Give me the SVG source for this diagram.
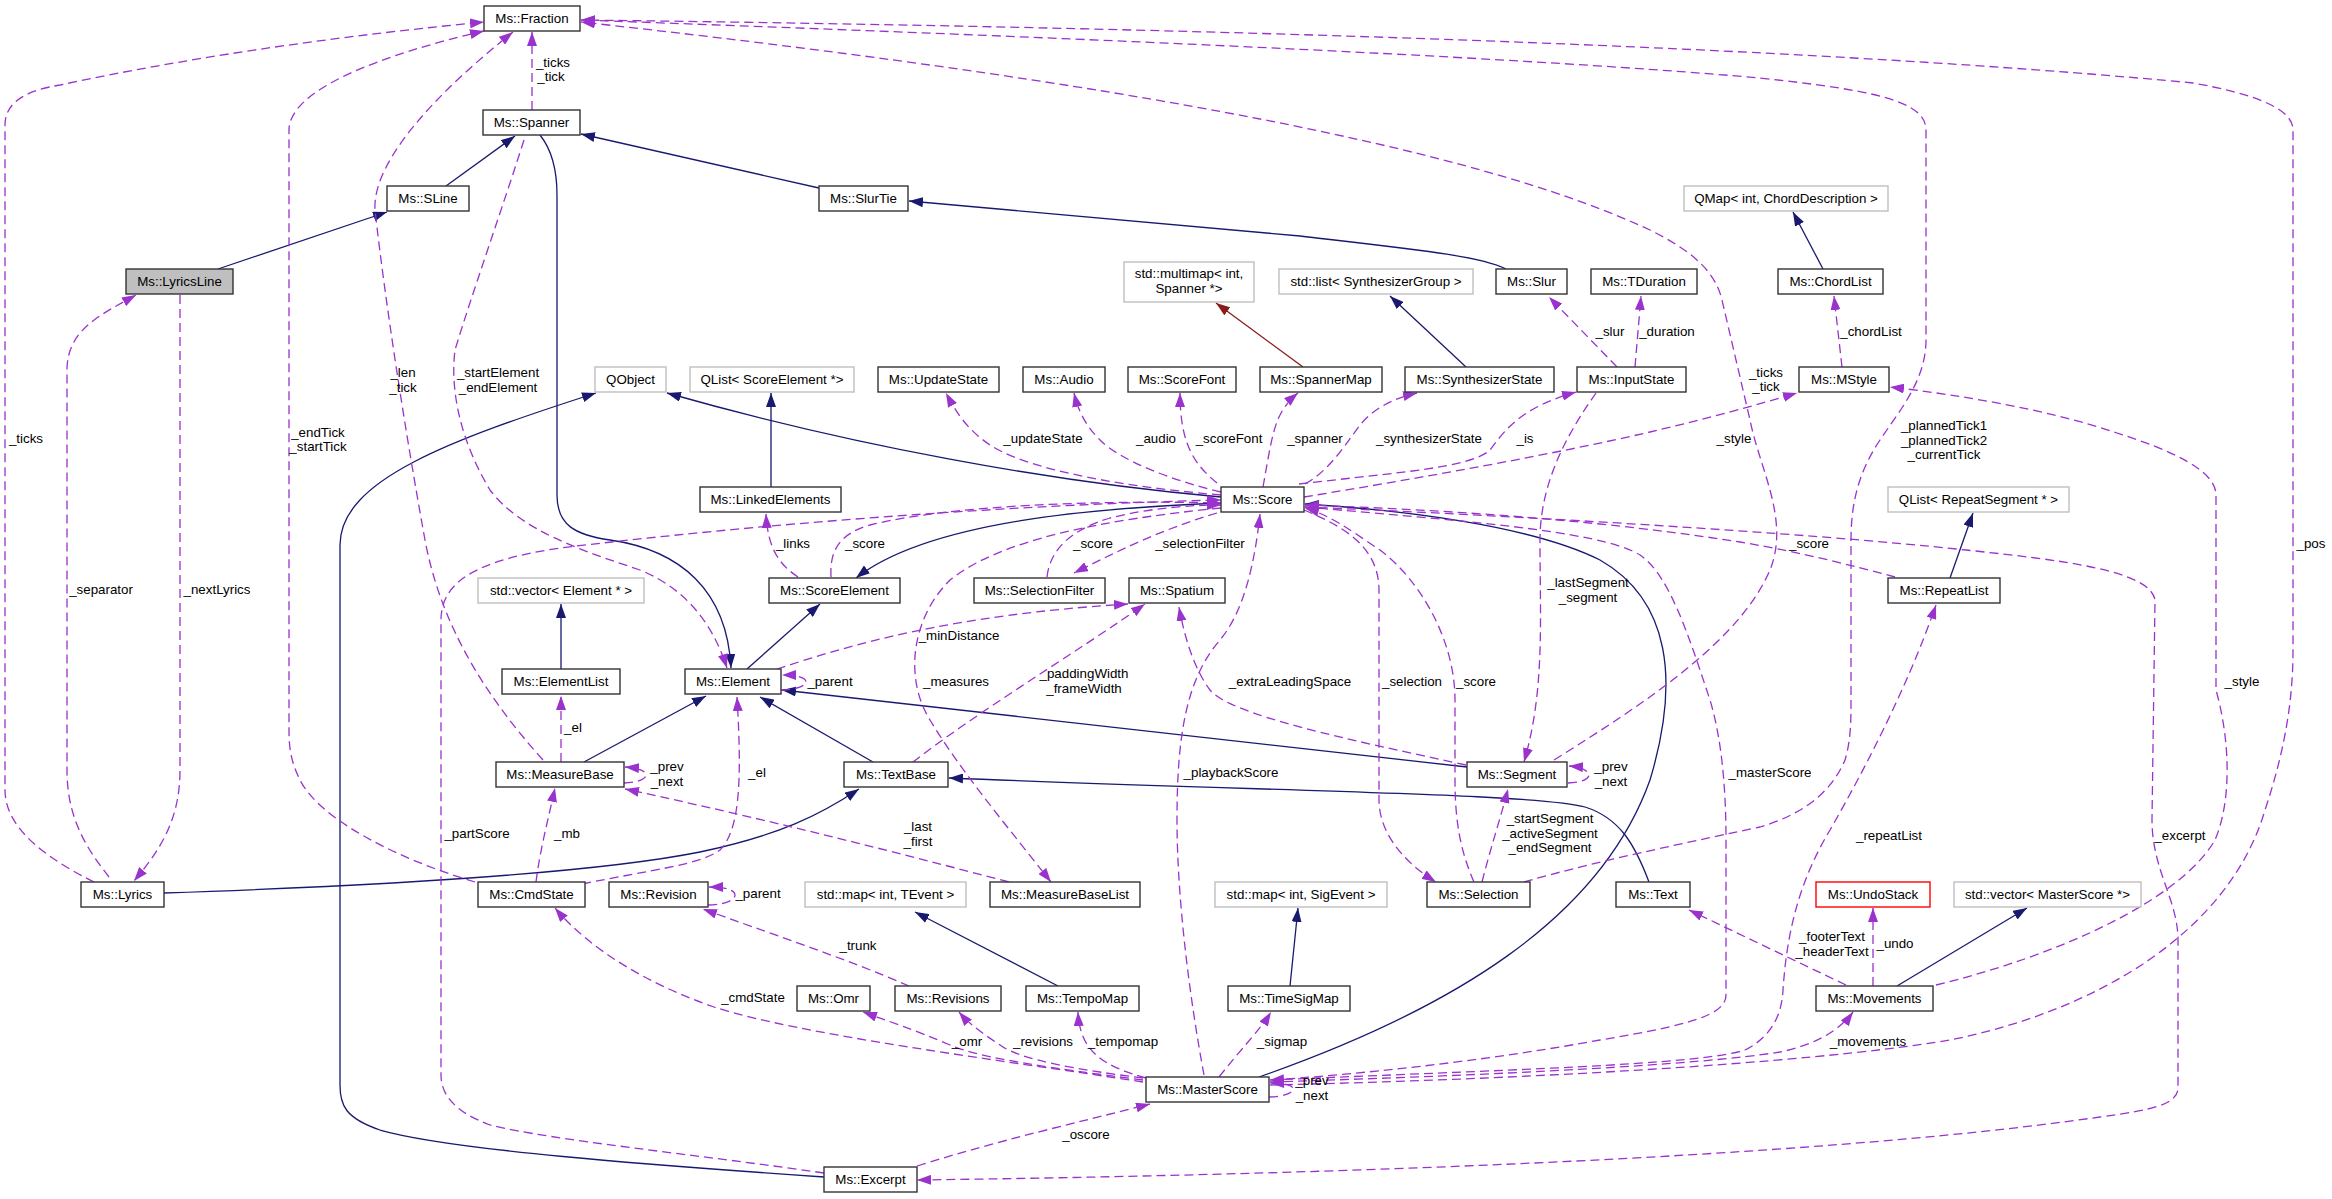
<svg xmlns="http://www.w3.org/2000/svg" width="2332" height="1199" viewBox="0 0 2332 1199">
<style>
.n rect{fill:#fff;stroke:#333;stroke-width:1.4}
.n.ext rect{stroke:#bfbfbf}
.n.cur rect{fill:#bfbfbf}
.n.red rect{stroke:#ff0000}
text{font-family:"Liberation Sans",Arial,sans-serif;font-size:13.33px;fill:#000}
.n text{text-anchor:middle}
.lb text{text-anchor:middle}
.inh{fill:none;stroke:#191970;stroke-width:1.3;marker-end:url(#an)}
.tpl{fill:none;stroke:#8b1a1a;stroke-width:1.3;marker-end:url(#ar)}
.use{fill:none;stroke:#9a32cd;stroke-width:1.3;stroke-dasharray:9,5;marker-end:url(#ap)}
</style>
<defs>
<marker id="an" viewBox="0 0 14 10" refX="14" refY="5" markerUnits="userSpaceOnUse" markerWidth="14" markerHeight="10" orient="auto"><path d="M0,0 L14,5 L0,10 z" fill="#191970"/></marker>
<marker id="ar" viewBox="0 0 14 10" refX="14" refY="5" markerUnits="userSpaceOnUse" markerWidth="14" markerHeight="10" orient="auto"><path d="M0,0 L14,5 L0,10 z" fill="#8b1a1a"/></marker>
<marker id="ap" viewBox="0 0 14 10" refX="14" refY="5" markerUnits="userSpaceOnUse" markerWidth="14" markerHeight="10" orient="auto"><path d="M0,0 L14,5 L0,10 z" fill="#9a32cd"/></marker>
</defs>
<rect width="2332" height="1199" fill="#fff"/>
<g id="connectors">
<!-- inheritance -->
<path class="inh" d="M446,186 L515,136"/>
<path class="inh" d="M218,269 L387,212"/>
<path class="inh" d="M819,188 L581,134"/>
<path class="inh" d="M1506,269 C1480,256 1420,250 1300,236 L909,201"/>
<path class="inh" d="M1823,269 L1793,212"/>
<path class="tpl" d="M1303,367 L1216,303"/>
<path class="inh" d="M1466,367 L1390,296"/>
<path class="inh" d="M771,487 L771,393"/>
<path class="inh" d="M1221,497 C1050,482 850,445 667,393"/>
<path class="inh" d="M1221,503 C1100,508 930,520 856,578"/>
<path class="inh" d="M747,669 L820,604"/>
<path class="inh" d="M540,135 C552,150 557,170 557,195 L557,495 C557,525 575,535 610,540 C680,550 727,590 731,668"/>
<path class="inh" d="M561,669 L561,604"/>
<path class="inh" d="M584,762 L706,696"/>
<path class="inh" d="M873,762 L760,697"/>
<path class="inh" d="M1467,767 L782,690"/>
<path class="inh" d="M164,893 C400,885 600,872 700,852 C780,835 820,815 859,789"/>
<path class="inh" d="M1649,882 C1635,845 1620,818 1585,807 C1540,794 1300,792 949,778"/>
<path class="inh" d="M1259,1077 C1450,1010 1600,920 1650,780 C1680,680 1670,600 1600,560 C1530,525 1400,510 1305,504"/>
<path class="inh" d="M824,1177 C650,1165 450,1150 380,1130 C345,1118 340,1105 340,1085 L340,545 C340,480 450,440 596,393"/>
<path class="inh" d="M1897,986 L2027,908"/>
<path class="inh" d="M1058,986 L915,912"/>
<path class="inh" d="M1290,986 L1298,908"/>
<path class="inh" d="M1950,578 L1973,513"/>
<!-- usage -->
<path class="use" d="M532,110 L532,32"/>
<path class="use" d="M94,882 C50,860 5,830 5,790 L5,125 C5,100 30,90 60,85 C200,55 350,35 484,22"/>
<path class="use" d="M109,877 C88,850 67,820 67,770 L67,370 C67,330 100,315 136,295"/>
<path class="use" d="M180,295 L180,770 C180,820 160,850 134,881"/>
<path class="use" d="M475,882 C400,860 320,820 300,780 C290,760 289,745 289,730 L289,130 C289,90 380,55 484,31"/>
<path class="use" d="M543,760 C480,690 440,620 425,540 C405,430 385,300 375,210 C372,160 440,90 513,32"/>
<path class="use" d="M524,140 C505,200 470,300 455,350 C450,390 460,440 490,490 C520,530 580,550 640,570 C690,590 715,630 727,668"/>
<path class="use" d="M561,762 L561,696"/>
<path class="use" d="M624,783 C636,783 646,779 646,775 C646,771 638,768 625,767"/>
<path class="use" d="M781,690 C795,690 806,686 806,682 C806,678 798,675 782,675"/>
<path class="use" d="M1009,882 C880,848 760,818 625,789"/>
<path class="use" d="M536,882 C540,850 548,820 555,788"/>
<path class="use" d="M582,884 C650,870 700,865 720,850 C740,830 742,780 737,697"/>
<path class="use" d="M777,669 C850,645 950,615 1128,604"/>
<path class="use" d="M913,762 C980,710 1080,650 1145,604"/>
<path class="use" d="M1466,765 C1350,740 1230,715 1210,690 C1195,670 1185,640 1179,607"/>
<path class="use" d="M1568,783 C1580,783 1589,779 1589,775 C1589,771 1581,767 1569,766"/>
<path class="use" d="M1596,393 C1570,430 1540,480 1540,540 C1540,620 1545,690 1524,762"/>
<path class="use" d="M1554,760 C1650,700 1740,640 1770,570 C1790,520 1760,470 1750,420 L1722,300 C1715,270 1690,250 1650,230 C1500,160 1200,90 581,22"/>
<path class="use" d="M1524,882 C1600,860 1700,840 1760,827 C1800,815 1830,795 1845,760 C1851,740 1851,720 1851,700 L1851,540 C1851,500 1860,470 1880,440 C1900,410 1926,380 1926,340 L1926,130 C1926,100 1870,90 1760,78 C1500,55 1000,35 581,20"/>
<path class="use" d="M1270,1085 C1500,1080 1800,1065 1950,1040 C2100,1010 2230,930 2265,810 C2285,750 2293,700 2293,650 L2293,130 C2293,110 2260,95 2193,83 C1900,55 1400,30 581,20"/>
<path class="use" d="M1936,985 C2060,955 2180,900 2215,840 C2232,800 2230,740 2216,690 L2216,495 C2216,470 2170,450 2117,433 C2050,410 1960,395 1890,387"/>
<path class="use" d="M1305,507 C1500,515 1800,532 1966,550 C2060,560 2150,570 2155,600 L2152,820 C2152,870 2178,900 2178,940 L2178,1088 C2178,1105 2150,1110 2100,1117 C1800,1160 1300,1175 917,1180"/>
<path class="use" d="M1895,577 C1850,565 1800,552 1740,542 C1600,520 1450,510 1305,505"/>
<path class="use" d="M1270,1080 C1500,1070 1700,1065 1745,1050 C1775,1035 1782,1010 1783,990 C1787,930 1800,880 1830,830 C1870,760 1910,680 1936,605"/>
<path class="use" d="M1305,507 C1450,520 1600,530 1640,555 C1670,575 1690,640 1710,700 C1722,740 1726,790 1726,840 L1726,995 C1726,1015 1690,1025 1600,1040 C1480,1062 1350,1075 1270,1080"/>
<path class="use" d="M1270,1082 C1500,1075 1700,1065 1780,1052 C1815,1045 1840,1030 1853,1012"/>
<path class="use" d="M1873,986 L1873,908"/>
<path class="use" d="M1846,985 L1689,910"/>
<path class="use" d="M1304,497 C1420,478 1550,455 1650,432 C1710,418 1760,404 1797,393"/>
<path class="use" d="M1842,367 L1834,296"/>
<path class="use" d="M1617,367 L1549,297"/>
<path class="use" d="M1635,367 L1641,296"/>
<path class="use" d="M1299,484 C1400,472 1470,468 1490,450 C1505,430 1520,408 1576,392"/>
<path class="use" d="M1305,484 C1330,470 1345,445 1360,425 C1375,407 1395,398 1417,393"/>
<path class="use" d="M1263,487 C1268,460 1272,430 1280,415 C1285,405 1292,398 1298,393"/>
<path class="use" d="M1217,483 C1195,465 1180,445 1180,393"/>
<path class="use" d="M1221,492 C1170,480 1120,460 1100,440 C1085,425 1078,410 1074,393"/>
<path class="use" d="M1221,495 C1100,485 1020,465 990,445 C965,428 955,410 946,393"/>
<path class="use" d="M798,577 C780,565 768,550 766,514"/>
<path class="use" d="M831,577 C830,555 835,535 870,525 C950,505 1100,500 1221,503"/>
<path class="use" d="M1217,513 C1160,530 1120,550 1074,573"/>
<path class="use" d="M1047,577 C1050,550 1070,530 1110,518 C1150,508 1190,505 1221,505"/>
<path class="use" d="M1221,508 C1100,520 1000,540 950,580 C910,620 905,680 930,720 C960,770 1010,830 1051,882"/>
<path class="use" d="M1304,510 C1340,525 1379,545 1379,590 L1379,800 C1379,830 1400,860 1436,882"/>
<path class="use" d="M1474,882 C1460,850 1455,820 1455,780 L1455,700 C1455,640 1420,580 1380,550 C1350,530 1330,515 1305,508"/>
<path class="use" d="M1482,882 C1490,850 1500,820 1508,789"/>
<path class="use" d="M1204,1075 C1190,1000 1177,900 1177,820 C1177,740 1185,680 1220,640 C1245,610 1255,560 1260,514"/>
<path class="use" d="M1143,1082 C1000,1060 800,1035 714,1007 C650,985 590,950 555,908"/>
<path class="use" d="M1143,1080 C1050,1068 980,1058 950,1045 C915,1030 885,1020 863,1012"/>
<path class="use" d="M1143,1078 C1080,1070 1020,1060 1000,1045 C985,1035 970,1025 959,1012"/>
<path class="use" d="M1146,1078 C1100,1065 1080,1050 1078,1012"/>
<path class="use" d="M1219,1077 C1240,1050 1260,1030 1271,1012"/>
<path class="use" d="M1269,1097 C1283,1097 1293,1093 1293,1089 C1293,1085 1284,1083 1270,1083"/>
<path class="use" d="M917,1166 C1000,1140 1080,1122 1150,1104"/>
<path class="use" d="M824,1173 C700,1155 550,1140 490,1125 C455,1112 441,1095 441,1075 L441,620 C441,580 480,560 560,548 C750,525 1000,505 1221,500"/>
<path class="use" d="M708,905 C725,905 735,900 735,895 C735,890 725,887 709,887"/>
<path class="use" d="M909,986 C850,960 760,930 703,909"/>
<g class="lb">
<text x="553" y="67">_ticks</text><text x="551" y="81">_tick</text>
<text x="26" y="443">_ticks</text>
<text x="101" y="594">_separator</text>
<text x="217" y="594">_nextLyrics</text>
<text x="318" y="437">_endTick</text><text x="318" y="451">_startTick</text>
<text x="403" y="377">_len</text><text x="403" y="392">_tick</text>
<text x="498" y="377">_startElement</text><text x="498" y="392">_endElement</text>
<text x="573" y="732">_el</text>
<text x="667" y="771">_prev</text><text x="667" y="786">_next</text>
<text x="830" y="686">_parent</text>
<text x="757" y="777">_el</text>
<text x="959" y="640">_minDistance</text>
<text x="956" y="686">_measures</text>
<text x="1084" y="678">_paddingWidth</text><text x="1084" y="693">_frameWidth</text>
<text x="793" y="548">_links</text>
<text x="865" y="548">_score</text>
<text x="1043" y="443">_updateState</text>
<text x="1156" y="443">_audio</text>
<text x="1229" y="443">_scoreFont</text>
<text x="1315" y="443">_spanner</text>
<text x="1429" y="443">_synthesizerState</text>
<text x="1525" y="443">_is</text>
<text x="1734" y="443">_style</text>
<text x="1766" y="377">_ticks</text><text x="1766" y="391">_tick</text>
<text x="1944" y="430">_plannedTick1</text><text x="1944" y="445">_plannedTick2</text><text x="1944" y="459">_currentTick</text>
<text x="1871" y="336">_chordList</text>
<text x="1610" y="336">_slur</text>
<text x="1667" y="336">_duration</text>
<text x="1809" y="548">_score</text>
<text x="2311" y="548">_pos</text>
<text x="2242" y="686">_style</text>
<text x="1200" y="548">_selectionFilter</text>
<text x="1093" y="548">_score</text>
<text x="1588" y="587">_lastSegment</text><text x="1588" y="602">_segment</text>
<text x="1290" y="686">_extraLeadingSpace</text>
<text x="1412" y="686">_selection</text>
<text x="1476" y="686">_score</text>
<text x="1611" y="771">_prev</text><text x="1611" y="786">_next</text>
<text x="1231" y="777">_playbackScore</text>
<text x="1770" y="777">_masterScore</text>
<text x="918" y="831">_last</text><text x="918" y="846">_first</text>
<text x="567" y="838">_mb</text>
<text x="477" y="838">_partScore</text>
<text x="1550" y="823">_startSegment</text><text x="1550" y="838">_activeSegment</text><text x="1550" y="852">_endSegment</text>
<text x="1889" y="840">_repeatList</text>
<text x="2180" y="840">_excerpt</text>
<text x="758" y="898">_parent</text>
<text x="858" y="950">_trunk</text>
<text x="1832" y="941">_footerText</text><text x="1832" y="956">_headerText</text>
<text x="1895" y="948">_undo</text>
<text x="753" y="1002">_cmdState</text>
<text x="967" y="1046">_omr</text>
<text x="1043" y="1046">_revisions</text>
<text x="1123" y="1046">_tempomap</text>
<text x="1282" y="1046">_sigmap</text>
<text x="1868" y="1046">_movements</text>
<text x="1312" y="1085">_prev</text><text x="1312" y="1100">_next</text>
<text x="1086" y="1139">_oscore</text>
</g>
</g>
<g id="nodes">
<g id="n_fraction" class="n"><rect x="484" y="6" width="96" height="25"/><text x="532" y="23">Ms::Fraction</text></g>
<g id="n_spanner" class="n"><rect x="483" y="110" width="97" height="25"/><text x="531.5" y="127">Ms::Spanner</text></g>
<g id="n_sline" class="n"><rect x="387" y="186" width="82" height="25"/><text x="428" y="203">Ms::SLine</text></g>
<g id="n_slurtie" class="n"><rect x="819" y="186" width="89" height="25"/><text x="863.5" y="203">Ms::SlurTie</text></g>
<g id="n_qmap" class="n ext"><rect x="1684" y="186" width="204" height="25"/><text x="1786" y="203">QMap&lt; int, ChordDescription &gt;</text></g>
<g id="n_lyricsline" class="n cur"><rect x="126" y="269" width="107" height="25"/><text x="179.5" y="286">Ms::LyricsLine</text></g>
<g id="n_multimap" class="n ext"><rect x="1124" y="262" width="130" height="40"/><text x="1189" y="278">std::multimap&lt; int,</text><text x="1189" y="293">Spanner *&gt;</text></g>
<g id="n_synthlist" class="n ext"><rect x="1279" y="269" width="194" height="25"/><text x="1376" y="286">std::list&lt; SynthesizerGroup &gt;</text></g>
<g id="n_slur" class="n"><rect x="1496" y="269" width="71" height="25"/><text x="1531.5" y="286">Ms::Slur</text></g>
<g id="n_tduration" class="n"><rect x="1591" y="269" width="106" height="25"/><text x="1644" y="286">Ms::TDuration</text></g>
<g id="n_chordlist" class="n"><rect x="1778" y="269" width="105" height="25"/><text x="1830.5" y="286">Ms::ChordList</text></g>
<g id="n_qobject" class="n ext"><rect x="595" y="367" width="71" height="25"/><text x="630.5" y="384">QObject</text></g>
<g id="n_qlistse" class="n ext"><rect x="690" y="367" width="164" height="25"/><text x="772" y="384">QList&lt; ScoreElement *&gt;</text></g>
<g id="n_updatestate" class="n"><rect x="878" y="367" width="121" height="25"/><text x="938.5" y="384">Ms::UpdateState</text></g>
<g id="n_audio" class="n"><rect x="1023" y="367" width="82" height="25"/><text x="1064" y="384">Ms::Audio</text></g>
<g id="n_scorefont" class="n"><rect x="1128" y="367" width="108" height="25"/><text x="1182" y="384">Ms::ScoreFont</text></g>
<g id="n_spannermap" class="n"><rect x="1260" y="367" width="122" height="25"/><text x="1321" y="384">Ms::SpannerMap</text></g>
<g id="n_synthstate" class="n"><rect x="1405" y="367" width="149" height="25"/><text x="1479.5" y="384">Ms::SynthesizerState</text></g>
<g id="n_inputstate" class="n"><rect x="1577" y="367" width="109" height="25"/><text x="1631.5" y="384">Ms::InputState</text></g>
<g id="n_mstyle" class="n"><rect x="1799" y="367" width="90" height="25"/><text x="1844" y="384">Ms::MStyle</text></g>
<g id="n_linkedelements" class="n"><rect x="700" y="487" width="141" height="25"/><text x="770.5" y="504">Ms::LinkedElements</text></g>
<g id="n_score" class="n"><rect x="1221" y="487" width="83" height="25"/><text x="1262.5" y="504">Ms::Score</text></g>
<g id="n_qlistrs" class="n ext"><rect x="1888" y="487" width="181" height="25"/><text x="1978.5" y="504">QList&lt; RepeatSegment * &gt;</text></g>
<g id="n_vecelement" class="n ext"><rect x="478" y="578" width="166" height="25"/><text x="561" y="595">std::vector&lt; Element * &gt;</text></g>
<g id="n_scoreelement" class="n"><rect x="769" y="578" width="131" height="25"/><text x="834.5" y="595">Ms::ScoreElement</text></g>
<g id="n_selectionfilter" class="n"><rect x="974" y="578" width="131" height="25"/><text x="1039.5" y="595">Ms::SelectionFilter</text></g>
<g id="n_spatium" class="n"><rect x="1129" y="578" width="96" height="25"/><text x="1177" y="595">Ms::Spatium</text></g>
<g id="n_repeatlist" class="n"><rect x="1888" y="578" width="112" height="25"/><text x="1944" y="595">Ms::RepeatList</text></g>
<g id="n_elementlist" class="n"><rect x="502" y="669" width="118" height="25"/><text x="561" y="686">Ms::ElementList</text></g>
<g id="n_element" class="n"><rect x="685" y="669" width="96" height="25"/><text x="733" y="686">Ms::Element</text></g>
<g id="n_measurebase" class="n"><rect x="496" y="762" width="128" height="25"/><text x="560" y="779">Ms::MeasureBase</text></g>
<g id="n_textbase" class="n"><rect x="844" y="762" width="104" height="25"/><text x="896" y="779">Ms::TextBase</text></g>
<g id="n_segment" class="n"><rect x="1467" y="762" width="100" height="25"/><text x="1517" y="779">Ms::Segment</text></g>
<g id="n_lyrics" class="n"><rect x="81" y="882" width="83" height="25"/><text x="122.5" y="899">Ms::Lyrics</text></g>
<g id="n_cmdstate" class="n"><rect x="478" y="882" width="107" height="25"/><text x="531.5" y="899">Ms::CmdState</text></g>
<g id="n_revision" class="n"><rect x="609" y="882" width="99" height="25"/><text x="658.5" y="899">Ms::Revision</text></g>
<g id="n_maptevent" class="n ext"><rect x="805" y="882" width="161" height="25"/><text x="885.5" y="899">std::map&lt; int, TEvent &gt;</text></g>
<g id="n_measurebaselist" class="n"><rect x="990" y="882" width="150" height="25"/><text x="1065" y="899">Ms::MeasureBaseList</text></g>
<g id="n_mapsigevent" class="n ext"><rect x="1215" y="882" width="172" height="25"/><text x="1301" y="899">std::map&lt; int, SigEvent &gt;</text></g>
<g id="n_selection" class="n"><rect x="1427" y="882" width="103" height="25"/><text x="1478.5" y="899">Ms::Selection</text></g>
<g id="n_text" class="n"><rect x="1616" y="882" width="74" height="25"/><text x="1653" y="899">Ms::Text</text></g>
<g id="n_undostack" class="n red"><rect x="1816" y="882" width="114" height="25"/><text x="1873" y="899">Ms::UndoStack</text></g>
<g id="n_vecmasterscore" class="n ext"><rect x="1954" y="882" width="187" height="25"/><text x="2047.5" y="899">std::vector&lt; MasterScore *&gt;</text></g>
<g id="n_omr" class="n"><rect x="797" y="986" width="73" height="25"/><text x="833.5" y="1003">Ms::Omr</text></g>
<g id="n_revisions" class="n"><rect x="895" y="986" width="106" height="25"/><text x="948" y="1003">Ms::Revisions</text></g>
<g id="n_tempomap" class="n"><rect x="1026" y="986" width="113" height="25"/><text x="1082.5" y="1003">Ms::TempoMap</text></g>
<g id="n_timesigmap" class="n"><rect x="1228" y="986" width="122" height="25"/><text x="1289" y="1003">Ms::TimeSigMap</text></g>
<g id="n_movements" class="n"><rect x="1816" y="986" width="117" height="25"/><text x="1874.5" y="1003">Ms::Movements</text></g>
<g id="n_masterscore" class="n"><rect x="1146" y="1077" width="123" height="25"/><text x="1207.5" y="1094">Ms::MasterScore</text></g>
<g id="n_excerpt" class="n"><rect x="824" y="1167" width="93" height="25"/><text x="870.5" y="1184">Ms::Excerpt</text></g>
</g>
</svg>
